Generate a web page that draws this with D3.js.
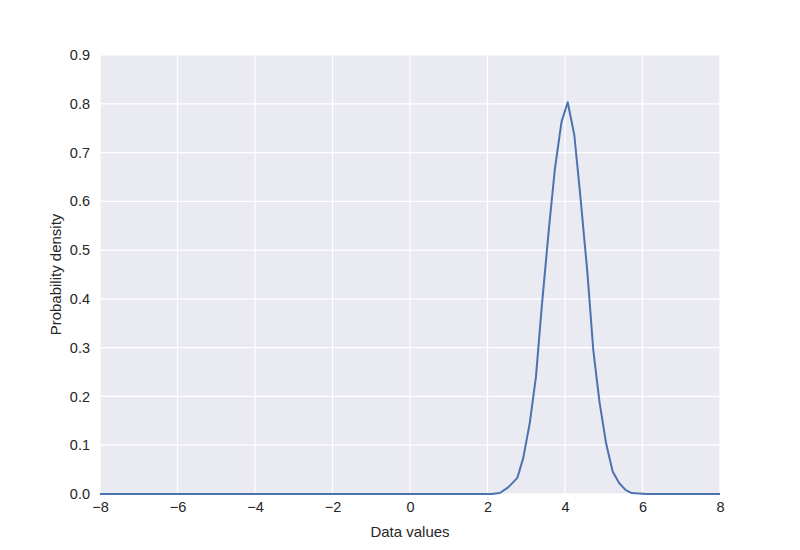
<!DOCTYPE html>
<html>
<head>
<meta charset="utf-8">
<script src="https://cdn.jsdelivr.net/npm/d3@7"></script>
<style>
  body { margin: 0; background: #fff; }
  svg { display: block; }
</style>
</head>
<body>
<svg id="chart" width="800" height="550"></svg>
<script>
// Data values (x) and probability density (y)
const xValues = [-8, 2.10, 2.32, 2.54, 2.77, 2.92, 3.09, 3.25, 3.40, 3.59, 3.74, 3.91, 4.07, 4.24, 4.39, 4.58, 4.73, 4.89, 5.06, 5.23, 5.40, 5.57, 5.72, 5.90, 6.10, 8];
const yValues = [0, 0, 0.002, 0.014, 0.033, 0.073, 0.145, 0.240, 0.384, 0.548, 0.667, 0.763, 0.803, 0.736, 0.616, 0.452, 0.295, 0.189, 0.104, 0.046, 0.022, 0.008, 0.002, 0.001, 0, 0];
const xTicks = [-8, -6, -4, -2, 0, 2, 4, 6, 8];
const yTicks = [0.0, 0.1, 0.2, 0.3, 0.4, 0.5, 0.6, 0.7, 0.8, 0.9];
const xLabel = "Data values";
const yLabel = "Probability density";

const svg = d3.select("#chart");
const margin = { left: 100, right: 80, top: 55, bottom: 56 };
const W = 800, H = 550;
const iw = W - margin.left - margin.right;
const ih = H - margin.top - margin.bottom;

const x = d3.scaleLinear().domain([-8, 8]).range([0, iw]);
const y = d3.scaleLinear().domain([0, 0.9]).range([ih, 0]);

const g = svg.append("g").attr("transform", `translate(${margin.left},${margin.top})`);

g.append("rect").attr("width", iw).attr("height", ih).attr("fill", "#EAEAF2");

// grid
g.selectAll(".vgrid").data(xTicks).join("line")
  .attr("x1", d => x(d)).attr("x2", d => x(d))
  .attr("y1", 0).attr("y2", ih)
  .attr("stroke", "#fff").attr("stroke-width", 1.2);
g.selectAll(".hgrid").data(yTicks).join("line")
  .attr("y1", d => y(d)).attr("y2", d => y(d))
  .attr("x1", 0).attr("x2", iw)
  .attr("stroke", "#fff").attr("stroke-width", 1.2);

const font = "'Liberation Sans', Arial, sans-serif";

// axes
const xAxis = d3.axisBottom(x).tickValues(xTicks).tickSize(0).tickPadding(8)
  .tickFormat(d => d3.format("d")(d).replace("-", "\u2212"));
const gx = g.append("g").attr("transform", `translate(0,${ih})`).call(xAxis);
gx.select(".domain").remove();
gx.selectAll("text").attr("font-family", font).attr("font-size", 14.5).attr("fill", "#262626");

const yAxis = d3.axisLeft(y).tickValues(yTicks).tickSize(0).tickPadding(10)
  .tickFormat(d3.format(".1f"));
const gy = g.append("g").call(yAxis);
gy.select(".domain").remove();
gy.selectAll("text").attr("font-family", font).attr("font-size", 14.5).attr("fill", "#262626");

// line
const pts = xValues.map((v, i) => [v, yValues[i]]);
const line = d3.line().x(d => x(d[0])).y(d => y(d[1]));
g.append("path").datum(pts).attr("d", line)
  .attr("fill", "none").attr("stroke", "#4C72B0").attr("stroke-width", 2)
  .attr("stroke-linejoin", "round");

// labels
svg.append("text").attr("x", margin.left + iw / 2).attr("y", 537)
  .attr("text-anchor", "middle").attr("font-family", font).attr("font-size", 15)
  .attr("fill", "#262626").text(xLabel);
svg.append("text").attr("transform", `translate(61,${margin.top + ih / 2}) rotate(-90)`)
  .attr("text-anchor", "middle").attr("font-family", font).attr("font-size", 15)
  .attr("fill", "#262626").text(yLabel);
</script>
</body>
</html>
